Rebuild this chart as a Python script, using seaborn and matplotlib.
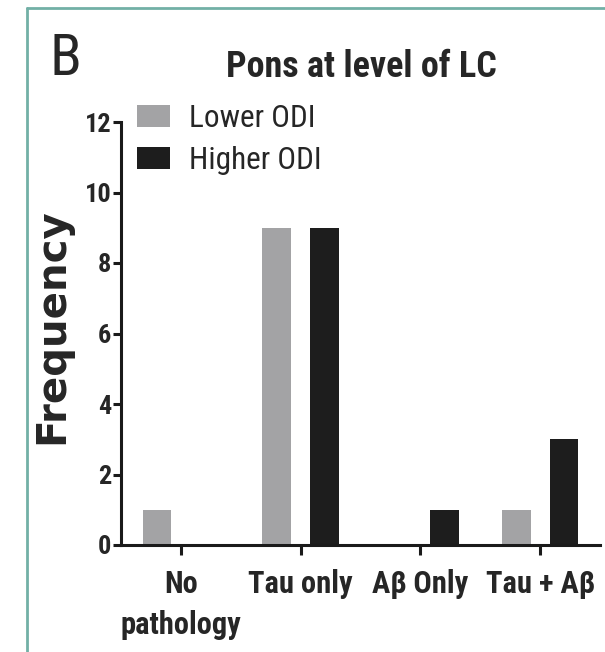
import matplotlib
matplotlib.use("Agg")
import matplotlib.pyplot as plt
import seaborn as sns
import pandas as pd
from matplotlib.lines import Line2D

categories = ["No\npathology", "Tau only", "A\u03b2 Only", "Tau + A\u03b2"]
lower_odi = [1, 9, 0, 1]
higher_odi = [0, 9, 1, 3]
series_names = ["Lower ODI", "Higher ODI"]
y_ticks = [0, 2, 4, 6, 8, 10, 12]

df = pd.DataFrame({
    "category": categories * 2,
    "group": [series_names[0]] * 4 + [series_names[1]] * 4,
    "freq": lower_odi + higher_odi,
})

sns.set_theme(style="ticks")
FAM = ["Roboto Condensed", "Liberation Sans", "DejaVu Sans"]
plt.rcParams["font.family"] = FAM

W, H = 605, 652
fig = plt.figure(figsize=(W / 100, H / 100), dpi=100)
ax = fig.add_axes([121 / W, (H - 545) / H, (600 - 121) / W, (545 - 122) / H])

palette = {"Lower ODI": "#a2a2a6", "Higher ODI": "#1d1d1d"}
sns.barplot(data=df, x="category", y="freq", hue="group", order=categories,
            hue_order=series_names, palette=palette, width=0.8, gap=0.4,
            linewidth=0, errorbar=None, ax=ax)

ax.set_xlim(-0.5, 3.5)
ax.set_ylim(0, 12)
ax.set_yticks(y_ticks)
ax.set_yticklabels([str(t) for t in y_ticks], fontsize=19, fontweight="bold")
ax.set_xticks(range(len(categories)))
ax.set_xticklabels(categories, fontsize=22, fontweight="bold", linespacing=1.45)
for s in ["top", "right"]:
    ax.spines[s].set_visible(False)
for s in ["left", "bottom"]:
    ax.spines[s].set_linewidth(2.2)
    ax.spines[s].set_color("#1a1a1a")
ax.tick_params(axis="y", length=6, width=2.2, pad=1, color="#1a1a1a")
ax.tick_params(axis="x", length=7.5, width=2.2, pad=10, color="#1a1a1a")
ax.set_xlabel("")
ax.set_ylabel("")

fig.text(52 / W, 1 - 326 / H, "Frequency", rotation=90, ha="center", va="center",
         fontsize=29, fontweight="bold", family=["DejaVu Sans"])
fig.text(361 / W, 1 - 77 / H, "Pons at level of LC", ha="center", va="baseline",
         fontsize=26, fontweight="bold")
fig.text(65 / W, 1 - 75 / H, "B", ha="center", va="baseline", fontsize=42)

handles, labels = ax.get_legend_handles_labels()
leg = ax.legend(handles, labels, loc="upper left", bbox_to_anchor=(137 / W, 1 - 104 / H),
                bbox_transform=fig.transFigure, frameon=False, fontsize=22.5,
                handlelength=1.05, handleheight=0.72, handletextpad=0.62,
                labelspacing=0.42, borderpad=0, borderaxespad=0)

teal = "#72b0a6"
fig.add_artist(Line2D([27 / W, 1.0], [1 - 7.5 / H, 1 - 7.5 / H], transform=fig.transFigure,
                      color=teal, linewidth=2))
fig.add_artist(Line2D([27 / W, 27 / W], [0, 1 - 7.5 / H], transform=fig.transFigure,
                      color=teal, linewidth=2))

fig.savefig("out.png", dpi=100)
